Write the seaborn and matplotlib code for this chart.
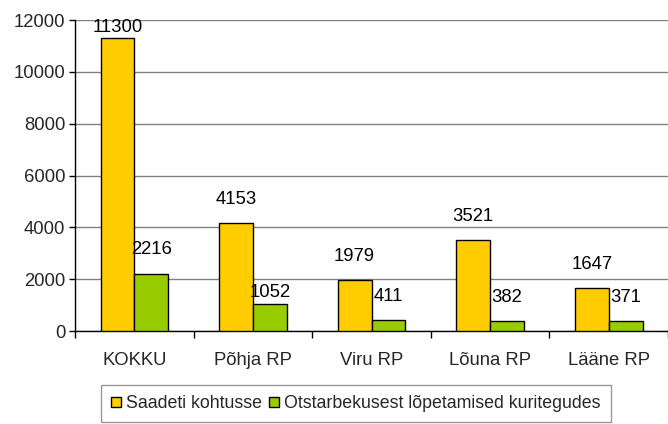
import numpy as np
import pandas as pd
import matplotlib
matplotlib.use("Agg")
import matplotlib.pyplot as plt
import seaborn as sns
from matplotlib.patches import Patch

regions = ["KOKKU", "Põhja RP", "Viru RP", "Lõuna RP", "Lääne RP"]
series = ["Saadeti kohtusse", "Otstarbekusest lõpetamised kuritegudes"]
sent_to_court = [11300, 4153, 1979, 3521, 1647]
terminated = [2216, 1052, 411, 382, 371]

colors = ["#FFCC00", "#99CC00"]

df = pd.DataFrame({
    "region": regions * 2,
    "series": [series[0]] * 5 + [series[1]] * 5,
    "value": sent_to_court + terminated,
})

sns.set_style("white")
plt.rcParams["font.family"] = ["Liberation Sans", "DejaVu Sans"]

fig = plt.figure(figsize=(6.68, 4.24), dpi=100)
ax = fig.add_axes([0.1123, 0.2193, 0.8877, 0.7335])

sns.barplot(data=df, x="region", y="value", hue="series", hue_order=series,
            palette=colors, saturation=1, width=0.57, gap=0,
            edgecolor="black", linewidth=1, ax=ax, legend=False, zorder=3)

ax.set_ylim(0, 12000)
ax.set_xlim(-0.5, 4.5)
ax.set_yticks(np.arange(0, 12001, 2000))
ax.yaxis.grid(True, color="#808080", linewidth=1, zorder=0)
ax.set_axisbelow(True)
for s in ["top", "right"]:
    ax.spines[s].set_visible(False)
for s in ["left", "bottom"]:
    ax.spines[s].set_color("black")
    ax.spines[s].set_linewidth(1)
ax.set_xlabel("")
ax.set_ylabel("")

fs = 13.3
ax.tick_params(axis="y", which="major", length=4, width=1, color="black",
               direction="out", left=True, labelsize=fs, pad=3)
ax.tick_params(axis="x", which="major", length=0, labelsize=fs, pad=15)
ax.set_xticks(np.arange(-0.5, 5, 1), minor=True)
ax.tick_params(axis="x", which="minor", length=5, width=1, color="black",
               direction="out", bottom=True)

# value labels; Excel pushed a couple of them closer to their bar
label_offset = {(0, 0): 8, (1, 1): 8}
for hi, cont in enumerate(ax.containers):
    for ci, bar in enumerate(cont):
        h = bar.get_height()
        dy = label_offset.get((ci, hi), 17)
        ax.annotate(f"{int(h)}", (bar.get_x() + bar.get_width() / 2, h),
                    xytext=(0, dy), textcoords="offset points",
                    ha="center", va="center", fontsize=fs, color="black",
                    annotation_clip=False)

handles = [Patch(facecolor=c, edgecolor="black", linewidth=1) for c in colors]
leg = fig.legend(handles, series, loc="center", bbox_to_anchor=(0.533, 0.048),
                 ncol=2, frameon=True, fancybox=False, fontsize=12.8,
                 handlelength=0.55, handleheight=0.55, handletextpad=0.3,
                 columnspacing=0.4, borderpad=0.55, borderaxespad=0)
leg.get_frame().set_edgecolor("#808080")
leg.get_frame().set_linewidth(1)

fig.savefig("out.png", dpi=100)
